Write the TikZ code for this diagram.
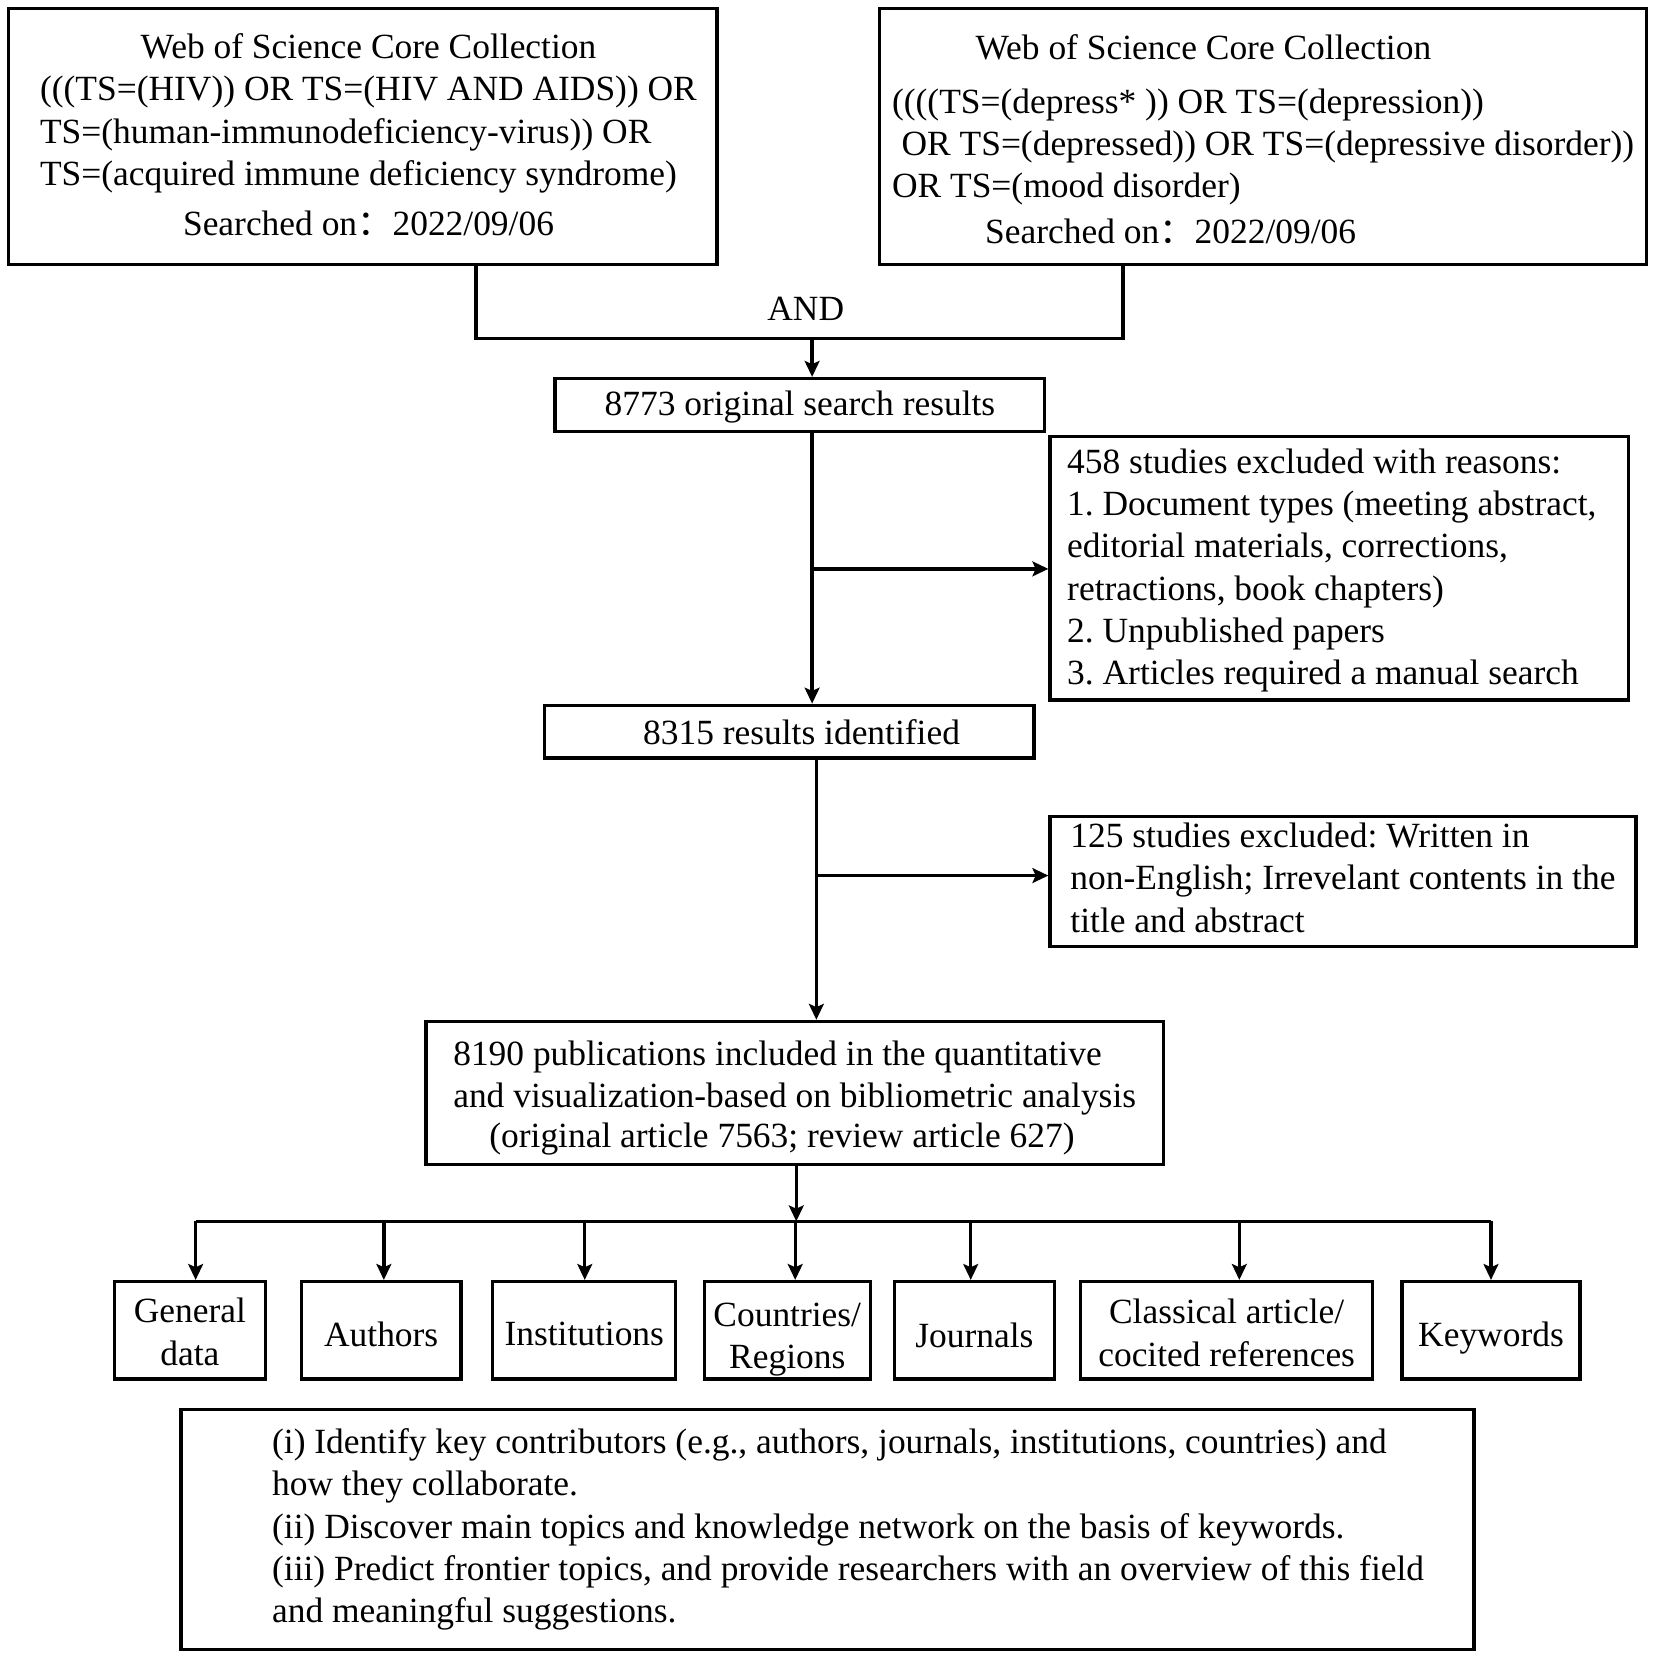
\documentclass[tikz,border=0pt]{standalone}
\usepackage{fontspec}
\setmainfont{Liberation Serif}
\newfontfamily\cjk{Noto Sans CJK SC}
\usetikzlibrary{arrows.meta}

% lower a text block without changing its size
\newcommand{\sinktext}[2]{\raisebox{-#1}[\height][\depth]{#2}}

\tikzset{
  flowbox/.style={draw, line width=1.6pt, inner sep=0pt, align=center,
    font=\fontsize{16.75pt}{20pt}\selectfont},
  itembox/.style={flowbox, minimum height=46pt},
  arr/.style={line width=1.6pt, -{Stealth[length=7.5pt,width=7pt,inset=1.5pt]}},
  conn/.style={line width=1.6pt},
}

\begin{document}
\frenchspacing
\begin{tikzpicture}[x=0.5pt, y=-0.5pt]
\useasboundingbox (0,0) rectangle (1564,1567);

% search queries
\node[flowbox, minimum width=335pt, minimum height=121pt] (wosA) at (343,129) {%
  \sinktext{1pt}{\hspace*{5.5pt}\begin{tabular}{@{}l@{}}
  \multicolumn{1}{@{}c@{}}{Web of Science Core Collection}\\
  (((TS=(HIV)) OR TS=(HIV AND AIDS)) OR\\
  TS=(human-immunodeficiency-virus)) OR\\
  TS=(acquired immune deficiency syndrome)\\[3.5pt]
  \multicolumn{1}{@{}c@{}}{Searched on{\cjk ：}2022/09/06}
  \end{tabular}}};
\node[flowbox, minimum width=362.5pt, minimum height=121pt] (wosB) at (1194.5,129) {%
  \sinktext{3pt}{\begin{tabular}{@{}l@{}}
  \hspace*{39.5pt}Web of Science Core Collection\\[5.5pt]
  ((((TS=(depress* )) OR TS=(depression))\\
  \hspace*{4.5pt}OR TS=(depressed)) OR TS=(depressive disorder))\\
  OR TS=(mood disorder)\\[1.5pt]
  \hspace*{44pt}Searched on{\cjk ：}2022/09/06
  \end{tabular}}};

% AND join
\coordinate (andL) at (450,320);
\coordinate (andR) at (1062,320);
\coordinate (andM) at (768,320);
\draw[conn] (wosA.south -| andL) -- (andL) -- (andR) -- (wosB.south -| andR);
\node[font=\fontsize{16.75pt}{20pt}\selectfont] (andlbl) at (762,292) {AND};

% screening
\node[flowbox, minimum width=231.5pt, minimum height=25pt] (res8773) at (756.5,383)
  {\sinktext{1pt}{8773 original search results}};
\node[flowbox, minimum width=273.5pt, minimum height=124.5pt] (excl458) at (1266.5,537.5) {%
  \sinktext{1pt}{\begin{tabular}{@{}l@{}}
  458 studies excluded with reasons:\\
  1. Document types (meeting abstract,\\
  editorial materials, corrections,\\
  retractions, book chapters)\\
  2. Unpublished papers\\
  3. Articles required a manual search
  \end{tabular}}\hspace*{7pt}};
\node[flowbox, minimum width=231.5pt, minimum height=25pt] (res8315) at (746.5,692)
  {\hspace*{11.5pt}8315 results identified};
\node[flowbox, minimum width=277pt, minimum height=61.5pt] (excl125) at (1270,833.5) {%
  \begin{tabular}{@{}l@{}}
  125 studies excluded: Written in\\
  non-English; Irrevelant contents in the\\
  title and abstract
  \end{tabular}};
\node[flowbox, minimum width=348.5pt, minimum height=67.5pt] (incl) at (751.5,1033.5) {%
  \sinktext{2.5pt}{\begin{tabular}{@{}l@{}}
  8190 publications included in the quantitative\\
  and visualization-based on bibliometric analysis\\[-1pt]
  \multicolumn{1}{@{}c@{}}{(original article 7563; review article 627)\hspace*{12pt}}
  \end{tabular}}};

\draw[arr] (andM) -- (res8773.north -| andM);
\coordinate (b1) at (768,538);
\draw[arr] (res8773.south -| b1) -- (res8315.north -| b1);
\draw[arr] (b1) -- (b1 -| excl458.west);
\coordinate (b2) at (772,828);
\draw[arr] (res8315.south -| b2) -- (incl.north -| b2);
\draw[arr] (b2) -- (b2 -| excl125.west);

% analyses
\node[itembox, minimum width=71.5pt] (gen) at (179.5,1258)
  {\sinktext{2.5pt}{\begin{tabular}{@{}c@{}}General\\data\end{tabular}}};
\node[itembox, minimum width=75.5pt] (auth) at (360.5,1258)
  {\sinktext{3.5pt}{\begin{tabular}{@{}c@{}}Authors\end{tabular}}};
\node[itembox, minimum width=86.5pt] (inst) at (552.5,1258)
  {\sinktext{3pt}{\begin{tabular}{@{}c@{}}Institutions\end{tabular}}};
\node[itembox, minimum width=78.5pt] (ctry) at (744.5,1258)
  {\sinktext{4pt}{\begin{tabular}{@{}c@{}}Countries/\\Regions\end{tabular}}};
\node[itembox, minimum width=75.5pt] (jour) at (921.5,1258)
  {\sinktext{4pt}{\begin{tabular}{@{}c@{}}Journals\end{tabular}}};
\node[itembox, minimum width=138pt] (clas) at (1160,1258)
  {\sinktext{3pt}{\begin{tabular}{@{}c@{}}Classical article/\\cocited references\end{tabular}}};
\node[itembox, minimum width=84pt] (keyw) at (1410,1258)
  {\sinktext{3.5pt}{\begin{tabular}{@{}c@{}}Keywords\end{tabular}}};

\coordinate (bus) at (753,1155);
\draw[arr] (incl.south -| bus) -- (bus);
\foreach \n/\x in {gen/185, auth/363, inst/553, ctry/752, jour/918, clas/1172, keyw/1410} {
  \coordinate (d\n) at (\x,1155);
  \draw[arr] (d\n) -- (d\n |- \n.north);
}
\draw[conn] (dgen) -- (dkeyw);

% aims
\node[flowbox, minimum width=611.5pt, minimum height=113.5pt] (aims) at (782.5,1446.5) {%
  \hspace*{19.5pt}\begin{tabular}{@{}l@{}}
  (i) Identify key contributors (e.g., authors, journals, institutions, countries) and\\
  how they collaborate.\\
  (ii) Discover main topics and knowledge network on the basis of keywords.\\
  (iii) Predict frontier topics, and provide researchers with an overview of this field\\
  and meaningful suggestions.
  \end{tabular}};

\end{tikzpicture}
\end{document}
